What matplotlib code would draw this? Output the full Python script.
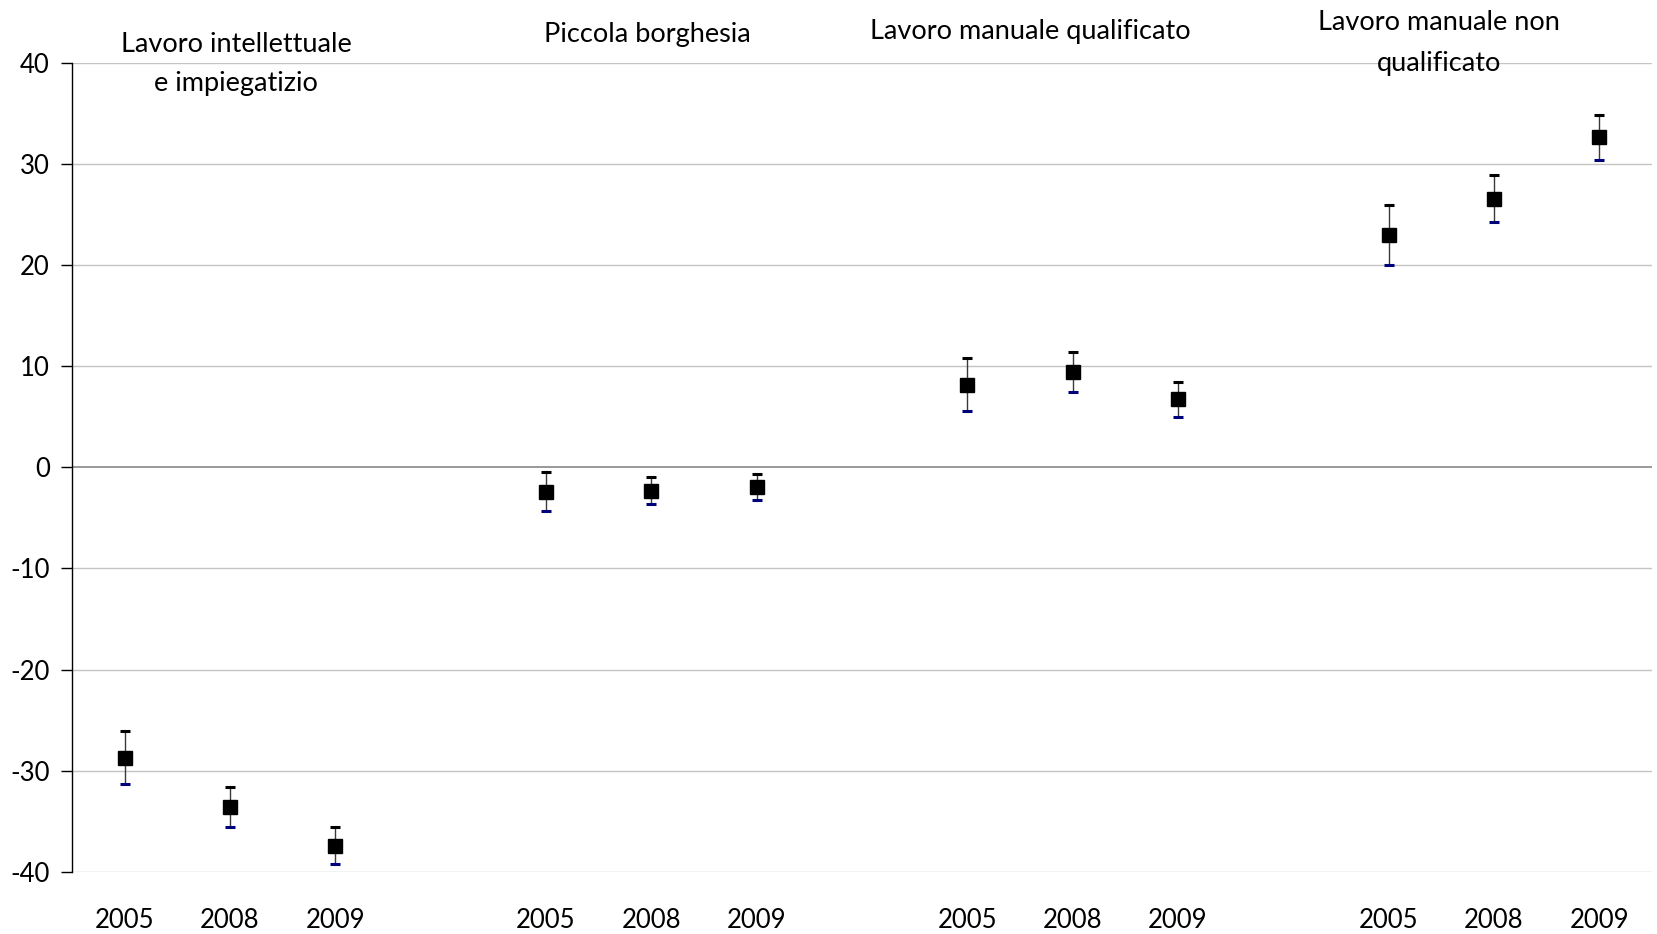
import matplotlib
matplotlib.use("Agg")
import matplotlib.pyplot as plt
import numpy as np

plt.rcParams['font.family'] = ['Lato', 'DejaVu Sans']
plt.rcParams['axes.unicode_minus'] = False

groups = ["Lavoro intellettuale\ne impiegatizio", "Piccola borghesia",
          "Lavoro manuale qualificato", "Lavoro manuale non\nqualificato"]
years = ["2005", "2008", "2009"]
values = [
    [-28.7, -33.6, -37.4],
    [-2.4, -2.3, -1.95],
    [8.15, 9.4, 6.7],
    [22.95, 26.55, 32.6],
]
errors = [
    [2.6, 2.0, 1.85],
    [1.95, 1.3, 1.25],
    [2.6, 2.0, 1.7],
    [3.0, 2.3, 2.2],
]
yticks = [-40, -30, -20, -10, 0, 10, 20, 30, 40]

# label placement (x in category units, y in data units)
label_x = [1.06, 4.96, 8.6, 12.48]
label_y = [[41.75, 37.95], [42.75], [43.1], [43.95, 39.95]]

fig = plt.figure(figsize=(16.58, 9.34), dpi=100)
ax = fig.add_axes([72/1658, 1-872/934, (1652-72)/1658, (872-62.5)/934])

xs, ys, es, labels = [], [], [], []
for g in range(len(groups)):
    for j in range(len(years)):
        xs.append(g*4 + j)
        ys.append(values[g][j])
        es.append(errors[g][j])
        labels.append(years[j])
xs = np.array(xs, float); ys = np.array(ys); es = np.array(es)

for t in yticks:
    if t == 0:
        ax.axhline(t, color='#878787', lw=1.2, zorder=1)
    else:
        ax.axhline(t, color='#c4c4c4', lw=1.0, zorder=1)

ax.errorbar(xs, ys, yerr=es, fmt='none', ecolor='#3a3a3a', elinewidth=1.0, capsize=0, zorder=2)
ax.plot(xs, ys + es, ls='none', marker='_', color='black', ms=6.5, mew=2.2, zorder=3)
ax.plot(xs, ys - es, ls='none', marker='_', color='#00007a', ms=6.5, mew=2.2, zorder=3)
ax.plot(xs, ys, ls='none', marker='s', color='black', ms=9.5, zorder=4)

ax.set_xlim(-0.5, 14.5)
ax.set_ylim(-40, 40)
ax.set_yticks(yticks)
ax.set_yticklabels([str(t) for t in yticks], fontsize=18.5)
ax.set_xticks(xs)
ax.set_xticklabels(labels, fontsize=18.5)
ax.tick_params(axis='x', length=0, pad=26)
ax.tick_params(axis='y', length=8, width=1, direction='out', pad=8)
for s in ['top', 'right', 'bottom']:
    ax.spines[s].set_visible(False)
ax.spines['left'].set_linewidth(1.0)

for g, name in enumerate(groups):
    for k, line in enumerate(name.split("\n")):
        ax.text(label_x[g], label_y[g][k], line, ha='center', va='center',
                fontsize=19.5, clip_on=False)

fig.savefig("out.png", dpi=100)
